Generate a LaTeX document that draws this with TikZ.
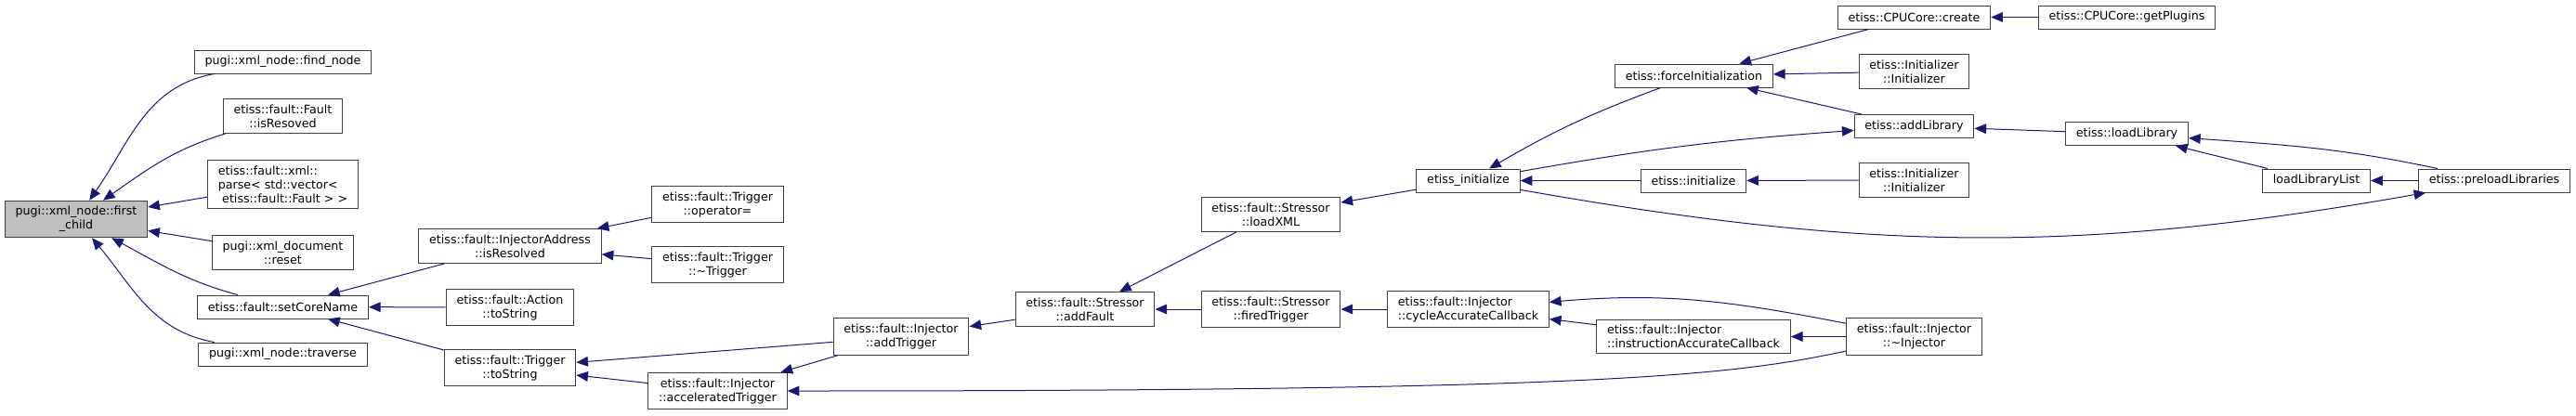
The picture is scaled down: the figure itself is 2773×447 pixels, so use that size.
\documentclass[tikz,border=0pt]{standalone}
\usepackage{fontspec}
\setmainfont{DejaVu Sans}
\usepackage{tikz}
\usetikzlibrary{arrows.meta,positioning}
\definecolor{edgenavy}{HTML}{191970}
\definecolor{boxgray}{HTML}{404040}
\definecolor{rootgray}{HTML}{BFBFBF}

\begin{document}
\begin{tikzpicture}[x=0.75pt, y=-0.75pt,
  every node/.style={draw=boxgray, line width=0.75pt, align=center, font=\fontsize{9.5}{11.25}\selectfont, fill=white, inner xsep=8.5pt, inner ysep=4.5pt, minimum height=18.75pt},
  root/.style={fill=rootgray},
  call/.style={draw=edgenavy, line width=0.75pt, {Triangle[length=9.5pt,width=8pt]}-}
]
\useasboundingbox (0,0) rectangle (2773,447);
\node[root] (fc) at (82,236) {pugi::xml\_node::first\\\_child};
\node (findnode) at (304.5,66.5) {pugi::xml\_node::find\_node};
\node (isresoved) at (304.5,125) {etiss::fault::Fault\\::isResoved};
\node[align=left] (xmlparse) at (304.5,198.5) {etiss::fault::xml::\\parse< std::vector<\\\hspace*{0.35em}etiss::fault::Fault > >};
\node (docreset) at (304.5,272) {pugi::xml\_document\\::reset};
\node (setcore) at (304.5,330.5) {etiss::fault::setCoreName};
\node (traverse) at (304.5,381.5) {pugi::xml\_node::traverse};

\node (addrres) at (549,265) {etiss::fault::InjectorAddress\\::isResolved};
\node (actstr) at (549,331) {etiss::fault::Action\\::toString};
\node (trigstr) at (549,396) {etiss::fault::Trigger\\::toString};
\node (trigop) at (772.5,220) {etiss::fault::Trigger\\::operator=};
\node (trigdtor) at (772.5,285) {etiss::fault::Trigger\\::\textasciitilde Trigger};
\node (acctrig) at (772.5,421) {etiss::fault::Injector\\::acceleratedTrigger};
\node (addtrig) at (970,362.5) {etiss::fault::Injector\\::addTrigger};
\node (addfault) at (1168,333) {etiss::fault::Stressor\\::addFault};
\node (loadxml) at (1368,231) {etiss::fault::Stressor\\::loadXML};
\node (firedtrig) at (1368,333) {etiss::fault::Stressor\\::firedTrigger};

\node (etissinit) at (1580.5,194.5) {etiss\_initialize};
\node[align=left] (cyclecb) at (1580.5,333) {etiss::fault::Injector\\::cycleAccurateCallback};
\node (forceinit) at (1823.5,81.5) {etiss::forceInitialization};
\node (initialize) at (1823,194.5) {etiss::initialize};
\node[align=left] (instrcb) at (1823,362.5) {etiss::fault::Injector\\::instructionAccurateCallback};
\node (cpucreate) at (2060.5,18.5) {etiss::CPUCore::create};
\node (initctora) at (2060.5,77) {etiss::Initializer\\::Initializer};
\node (addlib) at (2060.5,136) {etiss::addLibrary};
\node (initctorb) at (2060.5,194) {etiss::Initializer\\::Initializer};
\node (injdtor) at (2060.5,362.5) {etiss::fault::Injector\\::\textasciitilde Injector};
\node (getplugins) at (2289.5,18.5) {etiss::CPUCore::getPlugins};
\node (loadlib) at (2289.5,144) {etiss::loadLibrary};
\node (loadliblist) at (2493.5,194.5) {loadLibraryList};
\node (preload) at (2685,194.5) {etiss::preloadLibraries};

\draw[call] (fc) to[out=55,in=190] (findnode); \draw[call] (fc) to[out=35,in=197] (isresoved);
\draw[call] (fc) -- (xmlparse); \draw[call] (fc) -- (docreset);
\draw[call] (fc) to[out=-28,in=165] (setcore); \draw[call] (fc) to[out=-50,in=170] (traverse);
\draw[call] (setcore) -- (addrres); \draw[call] (setcore) -- (actstr); \draw[call] (setcore) -- (trigstr);
\draw[call] (addrres) -- (trigop); \draw[call] (addrres) -- (trigdtor);
\draw[call] (trigstr) -- (addtrig); \draw[call] (trigstr) -- (acctrig);
\draw[call] (addtrig) -- (addfault); \draw[call] (acctrig) -- (addtrig);
\draw[call] (acctrig) to[out=0,in=192,out distance=660pt,in distance=95pt] (injdtor);
\draw[call] (addfault) -- (loadxml); \draw[call] (addfault) -- (firedtrig);
\draw[call] (loadxml) -- (etissinit); \draw[call] (firedtrig) -- (cyclecb);
\draw[call] (etissinit) to[bend left=5] (forceinit); \draw[call] (addlib) to[bend right=3] (etissinit);
\draw[call] (etissinit) -- (initialize); \draw[call] (preload) to[out=190,in=-10] (etissinit);
\draw[call] (forceinit) -- (cpucreate); \draw[call] (forceinit) -- (initctora); \draw[call] (forceinit) -- (addlib);
\draw[call] (initialize) -- (initctorb); \draw[call] (cpucreate) -- (getplugins);
\draw[call] (addlib) -- (loadlib); \draw[call] (loadlib) -- (loadliblist);
\draw[call] (loadlib) to[out=-4,in=168] (preload); \draw[call] (loadliblist) -- (preload);
\draw[call] (cyclecb) to[out=5,in=169] (injdtor); \draw[call] (cyclecb) -- (instrcb); \draw[call] (instrcb) -- (injdtor);
\end{tikzpicture}
\end{document}
